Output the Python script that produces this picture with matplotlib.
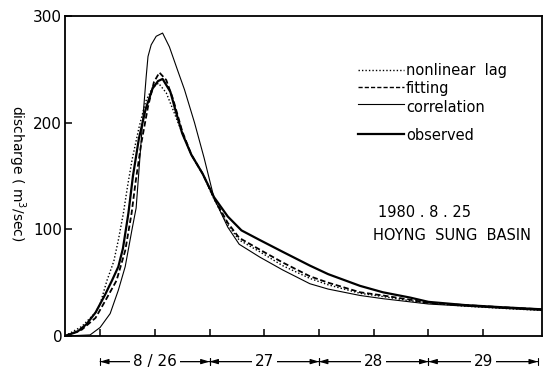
import matplotlib
matplotlib.use('Agg')
import matplotlib.pyplot as plt

# hours after 8/26 00:00, discharge in m3/sec
obs_t = [-7.7, -5, -3, -1, 1, 2.6, 4, 5, 6.2, 7.2, 8.5, 10, 11.5, 12.7, 13.7, 15.4, 16.5, 18, 20, 22.5,
         25, 28, 31, 35, 40, 46, 50, 57, 62, 68, 72, 80, 88, 96.9]
obs_q = [0, 4, 11, 22, 38, 52, 65, 82, 115, 150, 185, 213, 232, 239, 241, 229, 212, 190, 170, 152,
         130, 112, 99, 90, 79, 66, 58, 47, 41, 36, 32, 29, 27, 25]

fit_t = [-7.7, -4, -1, 1, 3.6, 5.5, 6.9, 7.8, 9, 10.5, 11.8, 13, 14.5, 16, 18, 20, 22.5,
         25, 28, 30.5, 35, 40, 46, 50, 57, 62, 68, 72, 80, 88, 96.9]
fit_q = [0, 6, 17, 32, 52, 80, 115, 145, 180, 215, 238, 247, 240, 222, 192, 170, 152,
         129, 106, 92, 81, 69, 56, 50, 41, 38, 34, 31, 29, 27, 25]

nl_t = [-7.7, -4, -1, 0, 1.5, 3, 4, 5.1, 6, 7, 8.5, 10, 11.5, 12.8, 14.5, 16, 18, 20, 22.5,
        25, 28, 30.5, 35, 40, 46, 50, 57, 62, 68, 72, 80, 88, 96.9]
nl_q = [0, 9, 22, 30, 52, 70, 90, 115, 140, 165, 195, 220, 233, 237, 228, 212, 190, 170, 152,
        128, 104, 90, 79, 66, 54, 48, 40, 37, 33, 31, 28, 26, 24]

cor_t = [-7.7, -2.2, 0, 2.2, 4, 5.5, 7, 7.9, 8.6, 9.3, 10.1, 10.5, 11.2, 12.3, 13.7, 15.2, 17, 18.5,
         20.7, 22.8, 25, 28, 30.5, 35, 40, 46, 50, 57, 62, 68, 72, 80, 88, 96.9]
cor_q = [0, 1, 8, 21, 43, 65, 100, 120, 160, 200, 243, 262, 273, 281, 284, 271, 249, 231,
         200, 167, 129, 102, 86, 74, 62, 49, 44, 38, 35, 32, 30, 28, 26, 24]

day_labels = ['8 / 26', '27', '28', '29']
day_starts = [0, 24, 48, 72]

fig = plt.figure(figsize=(5.58, 3.72), dpi=100)
ax = fig.add_axes([65 / 558, 36 / 372, 477 / 558, 320 / 372])

ax.plot(nl_t, nl_q, color='black', linestyle=(0, (1, 1.5)), lw=1.0)
ax.plot(fit_t, fit_q, color='black', linestyle=(0, (3, 1.5)), lw=1.3)
ax.plot(cor_t, cor_q, color='black', lw=0.8)
ax.plot(obs_t, obs_q, color='black', lw=1.6)

ax.set_xlim(-7.7, 96.9)
ax.set_ylim(0, 300)
ax.set_yticks([0, 100, 200, 300])
ax.set_xticks([0, 12, 24, 36, 48, 60, 72, 84])
ax.set_xticklabels([])
ax.tick_params(direction='in', length=5, width=1.1, labelsize=11, pad=2)
for s in ax.spines.values():
    s.set_linewidth(1.3)

fig.text(17 / 558, 1 - 173 / 372, 'discharge ( m$^3$/sec)', rotation=270,
         ha='center', va='center', fontsize=10)

# legend drawn by hand
leg_styles = [((0, (1, 1.5)), 1.0), ((0, (3, 1.5)), 1.0), ('-', 0.8), ('-', 1.6)]
leg_names = ['nonlinear  lag', 'fitting', 'correlation', 'observed']
leg_y = [70, 87, 104, 134]
leg_ty = [70, 88, 108, 136]
for (ls, lw), name, y, ty in zip(leg_styles, leg_names, leg_y, leg_ty):
    fig.add_artist(plt.Line2D([358 / 558, 404 / 558], [1 - y / 372] * 2,
                              color='black', linestyle=ls, lw=lw))
    fig.text(406 / 558, 1 - ty / 372, name, ha='left', va='center', fontsize=10.5)

fig.text(425 / 558, 1 - 212 / 372, '1980 . 8 . 25', ha='center', va='center', fontsize=10.5)
fig.text(452 / 558, 1 - 236 / 372, 'HOYNG  SUNG  BASIN', ha='center', va='center', fontsize=10.5)

# day span arrows under the axis
for start, lab in zip(day_starts, day_labels):
    ax.annotate('', xy=(start, -0.08), xytext=(start + 24, -0.08),
                xycoords=('data', 'axes fraction'), textcoords=('data', 'axes fraction'),
                arrowprops=dict(arrowstyle='|-|,widthA=0.25,widthB=0.25', lw=0.8, shrinkA=0, shrinkB=0),
                annotation_clip=False)
    ax.annotate('', xy=(start, -0.08), xytext=(start + 12, -0.08),
                xycoords=('data', 'axes fraction'), textcoords=('data', 'axes fraction'),
                arrowprops=dict(arrowstyle='-|>,head_length=0.5,head_width=0.15', lw=0.8,
                                color='black', shrinkA=0, shrinkB=0),
                annotation_clip=False)
    ax.annotate('', xy=(start + 24, -0.08), xytext=(start + 12, -0.08),
                xycoords=('data', 'axes fraction'), textcoords=('data', 'axes fraction'),
                arrowprops=dict(arrowstyle='-|>,head_length=0.5,head_width=0.15', lw=0.8,
                                color='black', shrinkA=0, shrinkB=0),
                annotation_clip=False)
    ax.text(start + 12, -0.08, lab, transform=ax.get_xaxis_transform(), ha='center', va='center',
            fontsize=11, bbox=dict(facecolor='white', edgecolor='none', pad=2))

fig.savefig('out.png', dpi=100)
